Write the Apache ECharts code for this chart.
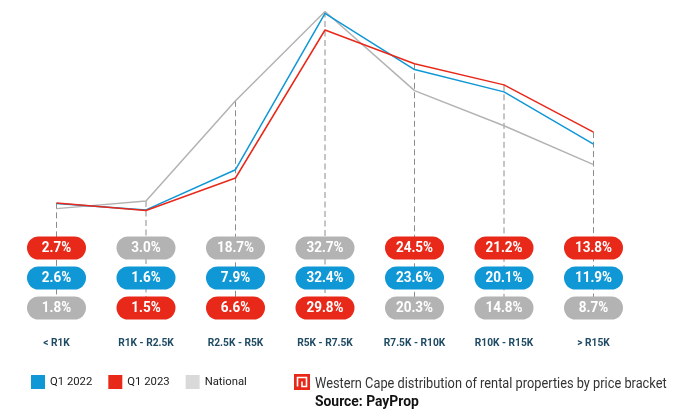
<!DOCTYPE html>
<html><head><meta charset="utf-8">
<style>html,body{margin:0;padding:0;background:#fff}#c{width:697px;height:410px}</style>
<script src="https://cdn.jsdelivr.net/npm/echarts@6/dist/echarts.min.js"></script>
</head><body><div id="c"></div>
<script>
const categories = ['< R1K','R1K - R2.5K','R2.5K - R5K','R5K - R7.5K','R7.5K - R10K','R10K - R15K','> R15K'];
const q12022 = [2.6,1.6,7.9,32.4,23.6,20.1,11.9];
const q12023 = [2.7,1.5,6.6,29.8,24.5,21.2,13.8];
const national = [1.8,3.0,18.7,32.7,20.3,14.8,8.7];
const BLUE='#0f97d6', RED='#e8291a', GRAY='#b3b3b3', LEGGRAY='#d9d9d9';
const FONT='Roboto,"Liberation Sans",sans-serif';
const rowY=[248,278,308];
const sets=[{name:'National',v:national,c:GRAY},{name:'Q1 2022',v:q12022,c:BLUE},{name:'Q1 2023',v:q12023,c:RED}];

const chart=echarts.init(document.getElementById('c'),null,{renderer:'canvas'});
chart.setOption({
  animation:false,
  backgroundColor:'#fff',
  grid:{left:56.5,right:103.5,top:11.5,height:304.3},
  xAxis:{type:'category',boundaryGap:false,data:categories,
    axisLine:{show:false},axisTick:{show:false},splitLine:{show:false},
    axisLabel:{interval:0,margin:23,color:'#1e4a63',fontFamily:FONT,fontWeight:'bold',fontSize:10.2}},
  yAxis:{type:'value',min:-15,max:32.7,show:false,splitLine:{show:false}},
  legend:{left:31,top:375,itemWidth:14,itemHeight:14,itemGap:16,padding:0,icon:'rect',
    textStyle:{fontFamily:FONT,fontSize:11.3,color:'#1a1a1a',padding:[2,0,0,0]},
    data:[{name:'Q1 2022',itemStyle:{color:BLUE}},{name:'Q1 2023',itemStyle:{color:RED}},{name:'National',itemStyle:{color:LEGGRAY}}]},
  graphic:[
    {type:'group',x:294,y:374,children:[
      {type:'rect',shape:{x:0,y:0,width:16,height:16},style:{fill:RED}},
      {type:'polyline',shape:{points:[[3.5,12.5],[3.5,3.5],[12.5,3.5],[12.5,12.5],[8,12.5],[8,7.5]]},style:{stroke:'#fff',fill:null,lineWidth:1.6}}
    ]},
    {type:'text',x:315,y:384,scaleX:0.853,style:{x:0,y:0,text:'Western Cape distribution of rental properties by price bracket',fontFamily:FONT,fontSize:15,fill:'#333',align:'left',verticalAlign:'middle'}},
    {type:'text',x:315,y:402,scaleX:0.925,style:{x:0,y:0,text:'Source: PayProp',fontFamily:FONT,fontSize:15,fontWeight:'bold',fill:'#111',align:'left',verticalAlign:'middle'}}
  ],
  series:[
    {type:'custom',name:'drops',silent:true,z:1,data:categories.map((c,i)=>[i,Math.max(q12022[i],q12023[i],national[i])]),
     renderItem:(p,api)=>{const a=api.coord([api.value(0),api.value(1)]);
       return {type:'line',shape:{x1:a[0],y1:a[1],x2:a[0],y2:rowY[2]},style:{stroke:'#8c8c8c',lineWidth:1,lineDash:[6,3.5]}};}},
    ...sets.map((s,k)=>({type:'line',name:s.name,data:s.v,symbol:'none',z:2+k,lineStyle:{color:s.c,width:1.5},itemStyle:{color:s.c}})),
    {type:'custom',name:'pills',silent:true,z:10,
     data:categories.flatMap((c,i)=>sets.map((s,k)=>({v:s.v[i],k})).sort((a,b)=>b.v-a.v).map((e,r)=>[i,e.v,r,e.k])),
     renderItem:(p,api)=>{
       const x=api.coord([api.value(0),0])[0], y=rowY[api.value(2)];
       return {type:'group',children:[
         {type:'rect',shape:{x:x-29.5,y:y-11.5,width:59,height:23,r:11.5},style:{fill:sets[api.value(3)].c}},
         {type:'text',x:x,y:y,scaleX:0.9,style:{x:0,y:0,text:api.value(1).toFixed(1)+'%',fill:'#fff',align:'center',verticalAlign:'middle',fontFamily:FONT,fontWeight:'bold',fontSize:15}}
       ]};
     }}
  ]
});
</script></body></html>
